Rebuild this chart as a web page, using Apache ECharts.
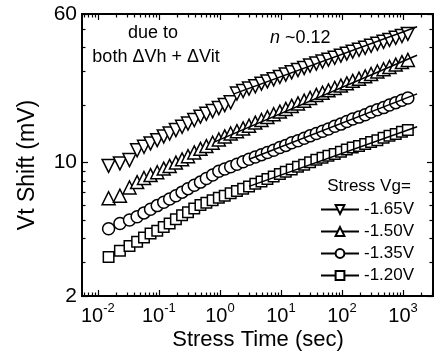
<!DOCTYPE html>
<html>
<head>
<meta charset="utf-8">
<script src="https://cdn.jsdelivr.net/npm/echarts@6/dist/echarts.min.js"></script>
<style>
  html, body { margin: 0; padding: 0; background: #fff; }
  #chart { width: 445px; height: 360px; }
</style>
</head>
<body>
<div id="chart"></div>
<script>
// stress time (sec), shared by all four curves
const times = [0.015, 0.023, 0.033, 0.044, 0.057, 0.073, 0.094, 0.12, 0.15, 0.19,
  0.24, 0.30, 0.38, 0.48, 0.60, 0.76, 0.96, 1.2, 1.5, 1.9,
  2.4, 3.0, 3.8, 4.8, 6.0, 7.6, 9.6, 12, 15, 19,
  24, 30, 38, 48, 60, 76, 96, 120, 150, 190,
  240, 300, 380, 480, 600, 760, 960, 1200];

// Vt shift (mV)
const vg165 = [9.6, 9.9, 10.3, 11.6, 12.1, 12.6, 13.1, 13.7, 14.2, 14.8,
  15.4, 16.0, 16.7, 17.4, 18.0, 18.6, 19.3, 20.0, 20.7, 23.0,
  23.7, 24.4, 25.1, 25.9, 26.6, 27.3, 28.1, 28.9, 29.7, 30.5,
  31.3, 32.2, 33.0, 33.8, 34.6, 35.4, 36.3, 37.2, 38.1, 39.0,
  39.9, 40.9, 41.9, 42.9, 43.9, 45.0, 46.0, 47.2];
const vg150 = [6.5, 6.7, 7.4, 7.9, 8.3, 8.6, 8.9, 9.3, 9.6, 10.0,
  10.4, 10.8, 11.3, 11.8, 12.2, 12.7, 13.2, 13.7, 14.2, 14.6,
  15.1, 15.6, 16.2, 16.7, 17.3, 17.9, 18.5, 19.1, 19.8, 20.4,
  21.1, 21.8, 22.6, 23.2, 23.9, 24.6, 25.3, 26.0, 26.8, 27.5,
  28.3, 29.1, 30.0, 30.8, 31.7, 32.6, 33.6, 34.5];
const vg135 = [4.5, 4.8, 5.0, 5.2, 5.45, 5.7, 5.95, 6.2, 6.45, 6.7,
  7.0, 7.3, 7.6, 7.9, 8.25, 8.6, 9.0, 9.25, 9.5, 9.8,
  10.1, 10.4, 10.7, 11.0, 11.3, 11.6, 12.0, 12.3, 12.7, 13.0,
  13.4, 13.8, 14.2, 14.6, 15.0, 15.5, 15.9, 16.4, 16.9, 17.3,
  17.8, 18.4, 18.9, 19.4, 20.0, 20.6, 21.2, 21.8];
const vg120 = [3.2, 3.45, 3.65, 3.85, 4.05, 4.25, 4.4, 4.6, 4.8, 5.05,
  5.3, 5.5, 5.75, 6.0, 6.15, 6.35, 6.55, 6.7, 6.9, 7.1,
  7.3, 7.5, 7.75, 7.95, 8.2, 8.45, 8.7, 8.95, 9.2, 9.5,
  9.75, 10.05, 10.35, 10.6, 10.85, 11.1, 11.4, 11.7, 12.0, 12.2,
  12.5, 12.8, 13.1, 13.5, 13.8, 14.1, 14.5, 14.8];

// power-law fit lines, [time, shift] end points
const fit165 = [[1.7, 22.9], [1700, 51.4]];
const fit150 = [[0.8, 12.8], [1700, 36.5]];
const fit135 = [[3, 10.4], [1700, 22.9]];
const fit120 = [[3, 7.5], [1700, 15.4]];

const names = ['-1.65V', '-1.50V', '-1.35V', '-1.20V'];

// ticks
const xMajor = [0.01, 0.1, 1, 10, 100, 1000];
const yMajor = [2, 10, 60];
const yMinor = [3, 4, 5, 6, 7, 8, 9, 20, 30, 40, 50];
const xMinor = [];
for (let d = -3; d <= 3; d++) {
  for (let k = 2; k <= 9; k++) {
    const v = Number((k * Math.pow(10, d)).toPrecision(3));
    if (v > 0.0055 && v < 3100) xMinor.push(v);
  }
}

const FONT = 'Liberation Sans, Arial, sans-serif';
const X_MIN = 0.0055, X_MAX = 3100, Y_MIN = 2, Y_MAX = 60;

function xAx(position, ticks, len, label) {
  return {
    type: 'log', logBase: 10, min: X_MIN, max: X_MAX, position: position,
    axisLine: { show: true, onZero: false, lineStyle: { color: '#000', width: 1.8 } },
    axisTick: { show: true, inside: true, length: len, customValues: ticks,
      lineStyle: { color: '#000', width: 1.2 } },
    axisLabel: label || { show: false },
    splitLine: { show: false },
    minorTick: { show: false }
  };
}

function yAx(position, ticks, len, label) {
  return {
    type: 'log', logBase: 10, min: Y_MIN, max: Y_MAX, position: position,
    axisLine: { show: true, onZero: false, lineStyle: { color: '#000', width: 1.8 } },
    axisTick: { show: true, inside: true, length: len, customValues: ticks,
      lineStyle: { color: '#000', width: 1.2 } },
    axisLabel: label || { show: false },
    splitLine: { show: false },
    minorTick: { show: false }
  };
}

function markSeries(name, vals, symbol, size, rotate) {
  return {
    name: name, type: 'line',
    data: times.map((t, i) => [t, vals[i]]),
    symbol: symbol, symbolSize: size, symbolRotate: rotate,
    showSymbol: true,
    lineStyle: { opacity: 0 },
    itemStyle: { color: '#fff', borderColor: '#000', borderWidth: 1.5 },
    emphasis: { disabled: true },
    z: 2
  };
}

function fitSeries(name, pts) {
  return {
    name: name, type: 'line', data: pts,
    showSymbol: false, symbol: 'none',
    lineStyle: { color: '#000', width: 1.5 },
    emphasis: { disabled: true },
    z: 3
  };
}

const xLabel = {
  show: true, customValues: xMajor, margin: 6,
  formatter: v => '{b|10}{s|' + Math.round(Math.log10(v)) + '}',
  rich: {
    b: { fontSize: 20, fontFamily: FONT, color: '#000', verticalAlign: 'bottom', lineHeight: 24 },
    s: { fontSize: 13, fontFamily: FONT, color: '#000', verticalAlign: 'top', lineHeight: 14 }
  }
};
const yLabel = {
  show: true, customValues: yMajor, margin: 5,
  fontSize: 21, fontFamily: FONT, color: '#000',
  formatter: v => String(Math.round(v))
};

const chart = echarts.init(document.getElementById('chart'));

const option = {
  animation: false,
  backgroundColor: '#fff',
  grid: { left: 82, right: 12, top: 14, bottom: 64 },
  xAxis: [
    xAx('bottom', xMajor, 6, xLabel),
    xAx('bottom', xMinor, 3.5),
    xAx('top', xMajor, 6),
    xAx('top', xMinor, 3.5)
  ],
  yAxis: [
    yAx('left', yMajor, 6, yLabel),
    yAx('left', yMinor, 3.5),
    yAx('right', yMajor, 6),
    yAx('right', yMinor, 3.5)
  ],
  legend: {
    data: names,
    orient: 'vertical', left: 315, top: 196,
    itemWidth: 38, itemHeight: 11, itemGap: 5,
    textStyle: { fontSize: 17, fontFamily: FONT, color: '#000' },
    lineStyle: { color: '#000', width: 2, opacity: 1 },
    itemStyle: { color: '#fff', borderColor: '#000', borderWidth: 2 },
    selectedMode: false
  },
  graphic: [
    { type: 'text', x: 28, y: 165, rotation: Math.PI / 2,
      style: { text: 'Vt Shift (mV)', font: '23px ' + FONT, fill: '#000', align: 'center', verticalAlign: 'middle' } },
    { type: 'text', x: 258, y: 340,
      style: { text: 'Stress Time (sec)', font: '22px ' + FONT, fill: '#000', align: 'center', verticalAlign: 'middle' } },
    { type: 'text', x: 153, y: 33,
      style: { text: 'due to', font: '18px ' + FONT, fill: '#000', align: 'center', verticalAlign: 'middle' } },
    { type: 'text', x: 156, y: 57,
      style: { text: 'both \u0394Vh + \u0394Vit', font: '18px ' + FONT, fill: '#000', align: 'center', verticalAlign: 'middle' } },
    { type: 'text', x: 270, y: 38,
      style: { text: '{i|n} ~0.12', font: '18px ' + FONT, fill: '#000', verticalAlign: 'middle',
        rich: { i: { fontStyle: 'italic', fontSize: 18, fontFamily: FONT } } } },
    { type: 'text', x: 369, y: 186,
      style: { text: 'Stress Vg=', font: '17px ' + FONT, fill: '#000', align: 'center', verticalAlign: 'middle' } }
  ],
  series: [
    markSeries(names[0], vg165, 'triangle', 13, 180),
    markSeries(names[1], vg150, 'triangle', 13, 0),
    markSeries(names[2], vg135, 'circle', 12, 0),
    markSeries(names[3], vg120, 'rect', 10.5, 0),
    fitSeries('fit165', fit165),
    fitSeries('fit150', fit150),
    fitSeries('fit135', fit135),
    fitSeries('fit120', fit120)
  ]
};

chart.setOption(option);
</script>
</body>
</html>
